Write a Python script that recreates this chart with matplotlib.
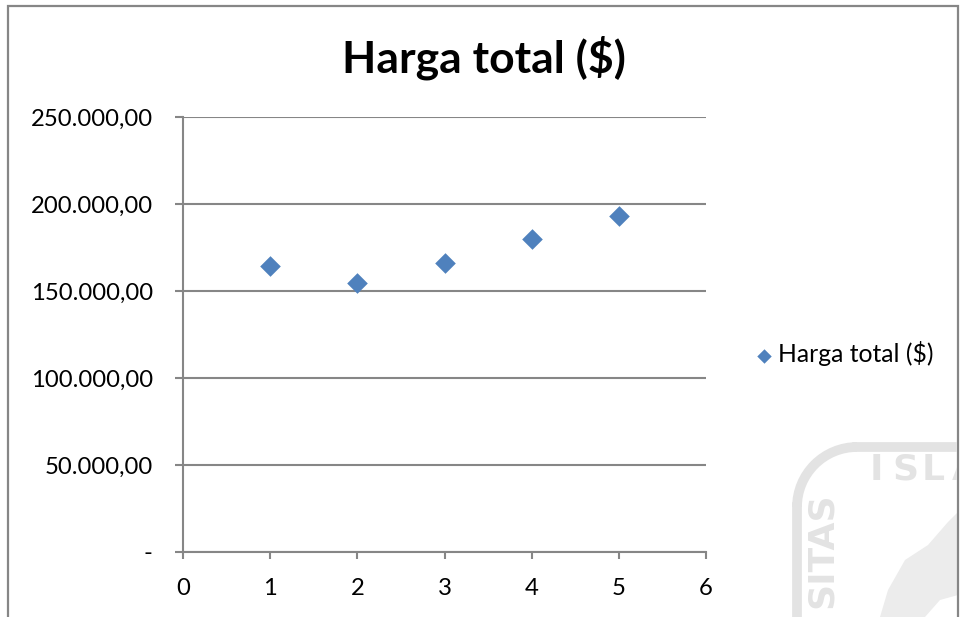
import matplotlib
matplotlib.use("Agg")
import matplotlib.pyplot as plt
from matplotlib.patches import Rectangle, Arc, Polygon
from matplotlib.lines import Line2D

plt.rcParams['font.family'] = ['Lato', 'DejaVu Sans']

# data
periode = [1, 2, 3, 4, 5]
harga_total = [164600, 154400, 166200, 180000, 193300]
y_ticks = [0, 50000, 100000, 150000, 200000, 250000]
x_ticks = [0, 1, 2, 3, 4, 5, 6]

def fmt_idr(v):
    if v == 0:
        return "-"
    s = f"{v:,.2f}"
    return s.replace(",", "X").replace(".", ",").replace("X", ".")

W, H = 961, 617
fig = plt.figure(figsize=(W / 100, H / 100), dpi=100)
grid_c = '#868686'

def px(x, y):
    # pixel position (top-left origin) -> figure fraction
    return (x / W, 1 - y / H)

# faded logo in the corner, clipped to the chart frame
wm = '#e3e3e3'
clip = Rectangle((0, 0), 957 / W, 1, transform=fig.transFigure)
logo = [
    Arc(px(857, 507), 120 / W, 120 / H, theta1=90, theta2=180,
        transform=fig.transFigure, color=wm, linewidth=7),
    Line2D([797 / W, 797 / W], [1 - 507 / H, 0], transform=fig.transFigure,
           color=wm, linewidth=7),
    Line2D([857 / W, 1], [1 - 447 / H, 1 - 447 / H], transform=fig.transFigure,
           color=wm, linewidth=7),
    Polygon([px(880, 617), px(888, 590), px(905, 560), px(928, 545), px(948, 522),
             px(958, 512), px(958, 595), px(940, 600), px(925, 617)],
            closed=True, transform=fig.transFigure, facecolor='#ececec',
            edgecolor='none'),
]
for a in logo:
    a.set_clip_path(clip)
    fig.add_artist(a)
# spaced-out lettering along the top of the logo
for ch, x in zip("ISLA", [870, 892, 922, 952]):
    t = fig.text(*px(x, 470), ch, fontsize=26, color=wm, fontweight='bold',
                 family='DejaVu Sans', ha='left', va='center')
    t.set_clip_path(clip)
fig.text(*px(822, 492), "SITAS", fontsize=26, color=wm, fontweight='bold',
         family='DejaVu Sans', rotation=90, ha='center', va='top')

# outer chart frame
fig.patches.append(Rectangle((8 / W, -0.01), 950 / W, 1 - 6 / H + 0.01,
                             transform=fig.transFigure, fill=False,
                             edgecolor=grid_c, linewidth=1.6))

ax = fig.add_axes([183 / W, 1 - 552 / H, (706 - 183) / W, (552 - 117) / H])
ax.patch.set_alpha(0)
ax.scatter(periode, harga_total, marker='D', s=10.5 ** 2, color='#4f81bd',
           zorder=3, label='Harga total ($)', linewidths=0)

ax.set_xlim(0, 6)
ax.set_ylim(0, 250000)
ax.set_xticks(x_ticks)
ax.set_yticks(y_ticks)
ax.set_yticklabels([fmt_idr(v) for v in y_ticks])
ax.grid(axis='y', color=grid_c, linewidth=1.5)
ax.set_axisbelow(True)
for sp in ['top', 'right']:
    ax.spines[sp].set_visible(False)
for sp in ['left', 'bottom']:
    ax.spines[sp].set_color(grid_c)
    ax.spines[sp].set_linewidth(1.5)
ax.tick_params(axis='both', colors=grid_c, labelcolor='black', labelsize=17.2,
               width=1.5, direction='out')
ax.tick_params(axis='y', length=5.8, pad=16)
ax.tick_params(axis='x', length=5, pad=13.5)

fig.text(484 / W, 1 - 58 / H, "Harga total ($)", fontsize=32, fontweight='bold',
         ha='center', va='center')

fig.legend(loc='center left', bbox_to_anchor=(742 / W, 1 - 354 / H), frameon=False,
           fontsize=17.8, handletextpad=0.05, markerscale=0.7, borderaxespad=0,
           handlelength=1.0)

fig.savefig("out.png", dpi=100)
